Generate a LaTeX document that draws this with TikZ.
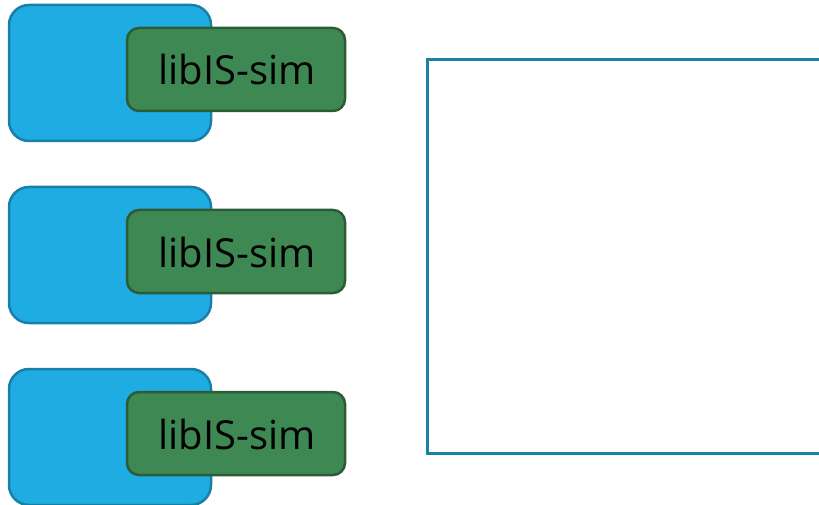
\documentclass[tikz,border=0pt]{standalone}
\usepackage{fontspec}
\setmainfont{Open Sans}
\definecolor{hostfill}{HTML}{1FACE3}
\definecolor{hostline}{HTML}{1A7FA8}
\definecolor{simfill}{HTML}{3E8853}
\definecolor{simline}{HTML}{2C5B38}
\definecolor{frameline}{HTML}{1A82AA}
\begin{document}
\begin{tikzpicture}[x=1pt,y=-1pt,
  host/.style={draw=hostline,fill=hostfill,line width=2.5pt,rounded corners=20pt},
  sim/.style={draw=simline,fill=simfill,line width=2.5pt,rounded corners=12pt},
  simlabel/.style={font=\fontsize{40}{44}\selectfont,text=black,inner sep=0pt}]
\useasboundingbox (0,0) rectangle (819,505);
\begin{scope}
\clip (0,0) rectangle (819,505);
% three host blocks, each carrying a libIS-sim box
\foreach \i/\dy in {1/0,2/182,3/364}{
  \draw[host] (9,5+\dy) rectangle (211,141+\dy);
  \draw[sim] (127,28+\dy) rectangle (345,111+\dy);
  \node[simlabel] (sim\i) at (237,70+\dy) {libIS-sim};
}
% large frame on the right, running past the edge
\draw[draw=frameline,line width=3pt] (835,60) -- (427,60) -- (427,453) -- (835,453);
\end{scope}
\end{tikzpicture}
\end{document}
